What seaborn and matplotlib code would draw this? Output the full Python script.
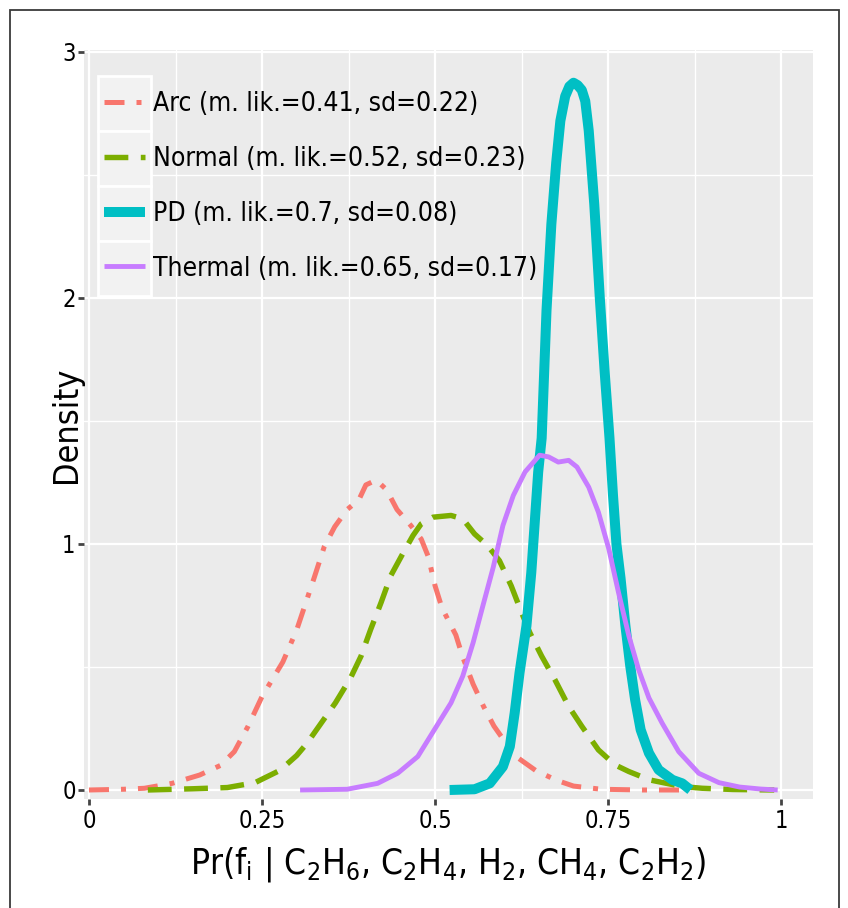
import matplotlib
matplotlib.use('Agg')
import matplotlib.pyplot as plt
from matplotlib import font_manager
from matplotlib.patches import Rectangle
from matplotlib.ticker import MultipleLocator
import pandas as pd
import seaborn as sns

# --- curves (x, density) ---
arc_x = [0.00, 0.05, 0.08, 0.12, 0.16, 0.19, 0.21, 0.23, 0.25, 0.28, 0.30, 0.325,
         0.34, 0.355, 0.373, 0.39, 0.40, 0.415, 0.43, 0.445, 0.465, 0.48, 0.49,
         0.50, 0.51, 0.53, 0.54, 0.555, 0.57, 0.585, 0.60, 0.615, 0.645, 0.675,
         0.70, 0.74, 0.80, 0.87]
arc_y = [0.0, 0.003, 0.007, 0.027, 0.061, 0.10, 0.156, 0.26, 0.38, 0.52, 0.65, 0.86,
         0.99, 1.07, 1.14, 1.18, 1.24, 1.26, 1.22, 1.14, 1.075, 1.02, 0.95,
         0.83, 0.74, 0.63, 0.54, 0.43, 0.34, 0.26, 0.20, 0.14, 0.08, 0.04,
         0.016, 0.003, 0.0, 0.0]

normal_x = [0.085, 0.15, 0.20, 0.24, 0.276, 0.30, 0.315, 0.33, 0.356, 0.378, 0.393,
            0.407, 0.422, 0.436, 0.453, 0.468, 0.48, 0.497, 0.523, 0.54, 0.557,
            0.576, 0.593, 0.61, 0.625, 0.637, 0.654, 0.673, 0.693, 0.712, 0.736,
            0.76, 0.78, 0.81, 0.857, 0.886, 0.93, 0.99]
normal_y = [0.0, 0.005, 0.01, 0.03, 0.08, 0.14, 0.19, 0.25, 0.354, 0.456, 0.544,
            0.653, 0.762, 0.871, 0.959, 1.034, 1.082, 1.109, 1.116, 1.102, 1.041,
            0.993, 0.932, 0.83, 0.721, 0.639, 0.544, 0.449, 0.34, 0.259, 0.163,
            0.102, 0.075, 0.041, 0.014, 0.007, 0.002, 0.0]

pd_x = [0.521, 0.557, 0.579, 0.598, 0.608, 0.615, 0.622, 0.632, 0.639, 0.644,
        0.649, 0.654, 0.661, 0.668, 0.675, 0.681, 0.688, 0.694, 0.700, 0.706,
        0.712, 0.717, 0.722, 0.730, 0.738, 0.745, 0.752, 0.757, 0.762, 0.768,
        0.775, 0.782, 0.789, 0.797, 0.809, 0.823, 0.843, 0.857, 0.869]
pd_y = [0.0, 0.003, 0.027, 0.095, 0.177, 0.313, 0.476, 0.667, 0.884, 1.088,
        1.293, 1.43, 1.95, 2.3, 2.55, 2.72, 2.82, 2.86, 2.875, 2.865,
        2.845, 2.80, 2.68, 2.38, 2.0, 1.7, 1.43, 1.2, 1.0, 0.86,
        0.667, 0.503, 0.367, 0.245, 0.150, 0.082, 0.041, 0.027, 0.0]

thermal_x = [0.305, 0.373, 0.417, 0.446, 0.475, 0.499, 0.523, 0.54, 0.555, 0.569,
             0.584, 0.598, 0.613, 0.63, 0.651, 0.664, 0.678, 0.693, 0.705, 0.722,
             0.736, 0.751, 0.765, 0.78, 0.794, 0.809, 0.828, 0.852, 0.881, 0.91,
             0.94, 0.97, 0.995]
thermal_y = [0.0, 0.003, 0.027, 0.068, 0.136, 0.245, 0.354, 0.463, 0.599, 0.748,
             0.905, 1.075, 1.197, 1.293, 1.361, 1.354, 1.333, 1.340, 1.313, 1.231,
             1.129, 0.98, 0.803, 0.626, 0.49, 0.374, 0.272, 0.156, 0.068, 0.03,
             0.012, 0.004, 0.0]

labels = ['Arc (m. lik.=0.41, sd=0.22)',
          'Normal (m. lik.=0.52, sd=0.23)',
          'PD (m. lik.=0.7, sd=0.08)',
          'Thermal (m. lik.=0.65, sd=0.17)']
colors = ['#F8766D', '#7CAE00', '#00BFC4', '#C77CFF']
x_ticks = [0, 0.25, 0.5, 0.75, 1]
x_tick_labels = ['0', '0.25', '0.5', '0.75', '1']
y_ticks = [0, 1, 2, 3]

curves = [(arc_x, arc_y), (normal_x, normal_y), (pd_x, pd_y), (thermal_x, thermal_y)]
df = pd.concat([pd.DataFrame({'x': cx, 'density': cy, 'fault': lab})
                for (cx, cy), lab in zip(curves, labels)], ignore_index=True)

# --- style: ggplot-like grey panel ---
sns.set_theme(style='darkgrid', rc={
    'axes.facecolor': '#EBEBEB',
    'grid.color': 'white',
    'axes.edgecolor': '#EBEBEB',
    'text.color': 'black',
    'axes.labelcolor': 'black',
    'xtick.color': 'black',
    'ytick.color': 'black',
})
plt.rcParams['font.family'] = ['DejaVu Sans']
plt.rcParams['mathtext.default'] = 'regular'

# narrow face if present (reference font is Tahoma-like)
has_cond = any(f.name == 'DejaVu Sans' and f.stretch == 'condensed'
               for f in font_manager.fontManager.ttflist)
if has_cond:
    plt.rcParams['font.stretch'] = 'condensed'
    fs_tick, fs_leg, fs_xlab, fs_ylab = 17, 19, 25.3, 24.5
else:
    fs_tick, fs_leg, fs_xlab, fs_ylab = 15.5, 17.3, 23.3, 22.5

W, H = 848, 908
fig = plt.figure(figsize=(W / 100, H / 100), dpi=100)
ax = fig.add_axes([84 / W, 1 - 799 / H, 729 / W, 749 / H])

line_styles = [(0, (4, 2.4, 1, 2.4)), (0, (4.4, 2.3)), '-', '-']
line_widths = [3.6, 3.9, 7.2, 3.5]

for lab, col, ls, lw in zip(labels, colors, line_styles, line_widths):
    sub = df[df['fault'] == lab]
    sns.lineplot(data=sub, x='x', y='density', ax=ax, color=col, linestyle=ls,
                 linewidth=lw, label=lab, estimator=None,
                 solid_capstyle='butt', solid_joinstyle='round')

ax.set_xlim(-0.0072, 1.046)
ax.set_ylim(-0.0366, 3.008)
ax.set_xticks(x_ticks)
ax.set_xticklabels(x_tick_labels)
ax.set_yticks(y_ticks)
ax.set_yticklabels([str(t) for t in y_ticks])
ax.xaxis.set_minor_locator(MultipleLocator(0.125))
ax.yaxis.set_minor_locator(MultipleLocator(0.5))
ax.grid(which='major', color='white', linewidth=1.6)
ax.grid(which='minor', color='white', linewidth=1.0)
ax.tick_params(which='major', length=4, width=2, color='#444444',
               labelsize=fs_tick, labelcolor='black', left=True, bottom=True)
ax.tick_params(axis='x', pad=3)
ax.tick_params(axis='y', pad=2)
ax.tick_params(which='minor', length=0)
for s in ax.spines.values():
    s.set_visible(False)

ax.set_xlabel(r'Pr(f$_i$ | C$_2$H$_6$, C$_2$H$_4$, H$_2$, CH$_4$, C$_2$H$_2$)',
              fontsize=fs_xlab, va='baseline', color='black')
ax.xaxis.set_label_coords(0.5, (799 - 874) / 749)
ax.set_ylabel('Density', fontsize=fs_ylab, va='center', color='black')
ax.yaxis.set_label_coords((66 - 84) / 729, 0.5)

# legend: key column with light boxes like ggplot
em = fs_leg * 100 / 72
leg = ax.legend(loc='upper left', bbox_to_anchor=(104 / W, 1 - 91 / H),
                bbox_transform=fig.transFigure, frameon=False,
                fontsize=fs_leg, handlelength=41 / em, handletextpad=8 / em,
                labelspacing=(55 - 1.1 * em) / em + 0.11, borderpad=0,
                borderaxespad=0)
for t in leg.get_texts():
    t.set_color('black')
for row in range(4):
    top = 76 + 55 * row
    ax.add_patch(Rectangle((98 / W, 1 - (top + 55) / H), 53 / W, 55 / H,
                           transform=fig.transFigure, facecolor='#F2F2F2',
                           edgecolor='white', linewidth=2, zorder=3))

# dark frame around the whole figure (bottom edge cut off in the reference)
fig.add_artist(Rectangle((10 / W, -0.05), 829 / W, 1.05 - 10 / H,
                         transform=fig.transFigure, fill=False,
                         edgecolor='#3a3a3a', linewidth=1.3))

fig.savefig('out.png', dpi=100)
